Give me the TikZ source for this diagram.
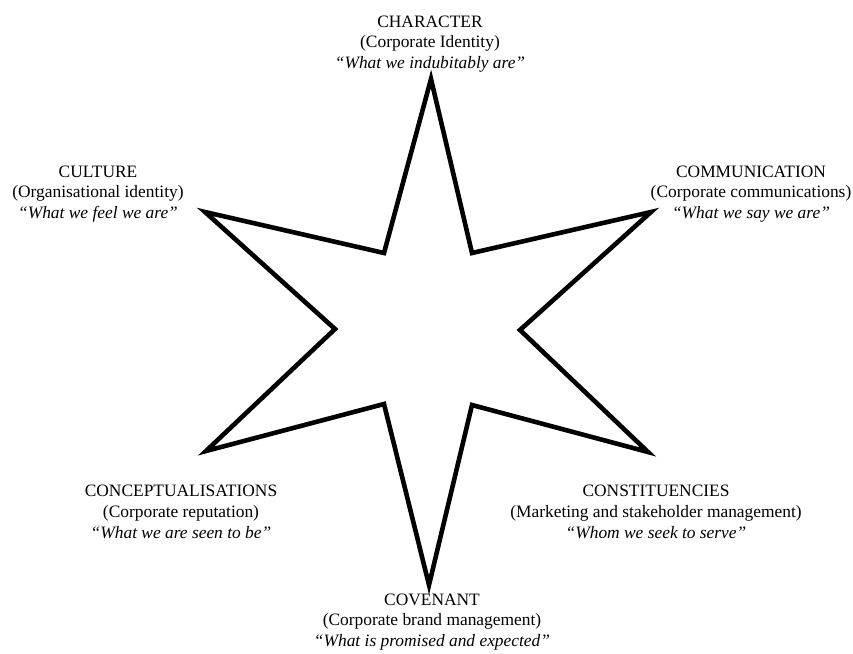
\documentclass[tikz,border=0pt]{standalone}
\usepackage{fontspec}
\setmainfont{Liberation Serif}
\begin{document}
\begin{tikzpicture}[x=1pt,y=-1pt,
  lbl/.style={align=center,font=\fontsize{17.4}{20.8}\selectfont,inner sep=0pt},
  starline/.style={line width=4.6pt,line join=miter,miter limit=20}]
\useasboundingbox (0,0) rectangle (853,653);
% star vertices
\coordinate (t) at (431,79);
\coordinate (iur) at (472,253);
\coordinate (ur) at (651,212);
\coordinate (ir) at (520,330);
\coordinate (lr) at (648,452);
\coordinate (ilr) at (472,405);
\coordinate (b) at (429,585);
\coordinate (ill) at (384,404);
\coordinate (ll) at (206,451);
\coordinate (il) at (335,329);
\coordinate (ul) at (205,212);
\coordinate (iul) at (384,253);
\draw[starline] (t) -- (iur) -- (ur) -- (ir) -- (lr) -- (ilr) -- (b) -- (ill) -- (ll) -- (il) -- (ul) -- (iul) -- cycle;
% labels
\node[lbl] (character) at (430,44) {CHARACTER\\(Corporate Identity)\\\textit{“What we indubitably are”}};
\node[lbl] (culture) at (98,194) {CULTURE\\(Organisational identity)\\\textit{“What we feel we are”}};
\node[lbl] (communication) at (751,194) {COMMUNICATION\\(Corporate communications)\\\textit{“What we say we are”}};
\node[lbl] (concept) at (181,512) {CONCEPTUALISATIONS\\(Corporate reputation)\\\textit{“What we are seen to be”}};
\node[lbl] (constit) at (656,512) {CONSTITUENCIES\\(Marketing and stakeholder management)\\\textit{“Whom we seek to serve”}};
\node[lbl] (covenant) at (432,622) {COVENANT\\(Corporate brand management)\\\textit{“What is promised and expected”}};
\end{tikzpicture}
\end{document}
